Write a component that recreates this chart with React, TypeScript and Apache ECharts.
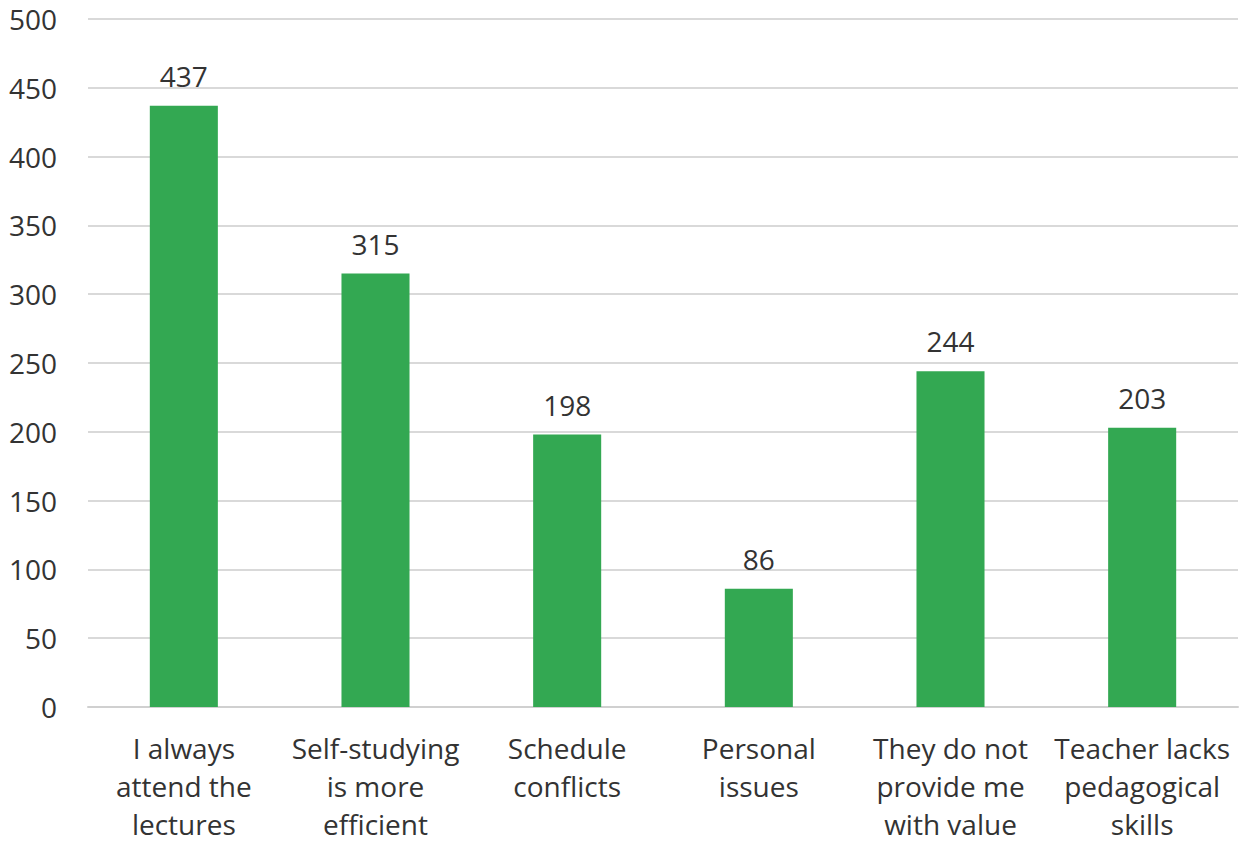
import React, { useEffect, useRef } from "react";
import * as echarts from "echarts";

const categories = [
  "I always\nattend the\nlectures",
  "Self-studying\nis more\nefficient",
  "Schedule\nconflicts",
  "Personal\nissues",
  "They do not\nprovide me\nwith value",
  "Teacher lacks\npedagogical\nskills",
];
const values = [437, 315, 198, 86, 244, 203];

export default function App() {
  const ref = useRef<HTMLDivElement>(null);
  useEffect(() => {
    document.body.style.margin = "0";
    const chart = echarts.init(ref.current!, null, { renderer: "svg" });
    const font = "'Open Sans', sans-serif";
    chart.setOption({
      animation: false,
      backgroundColor: "#ffffff",
      grid: { left: 88, right: 4, top: 19, bottom: 135 },
      xAxis: {
        type: "category",
        data: categories,
        axisLine: { lineStyle: { color: "#d0d0d0", width: 2 } },
        axisTick: { show: false },
        axisLabel: {
          color: "#333333",
          fontFamily: font,
          fontSize: 28,
          lineHeight: 38,
          margin: 22,
          interval: 0,
        },
      },
      yAxis: {
        type: "value",
        min: 0,
        max: 500,
        interval: 50,
        axisLine: { show: false },
        axisTick: { show: false },
        splitLine: { lineStyle: { color: "#d9d9d9", width: 2 } },
        axisLabel: {
          color: "#333333",
          fontFamily: font,
          fontSize: 28,
          margin: 31,
        },
      },
      series: [
        {
          type: "bar",
          data: values,
          barWidth: "35.5%",
          itemStyle: { color: "#33a852" },
          label: {
            show: true,
            position: "top",
            distance: 16,
            color: "#333333",
            fontFamily: font,
            fontSize: 28,
          },
        },
      ],
    });
    return () => chart.dispose();
  }, []);
  return <div ref={ref} style={{ width: 1242, height: 843 }} />;
}
